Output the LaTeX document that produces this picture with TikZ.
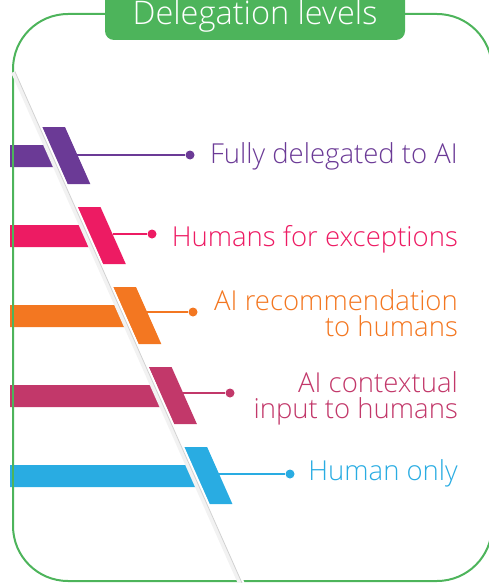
\documentclass[tikz,border=0pt]{standalone}
\usepackage{fontspec}
\setmainfont{Open Sans Light}
\usepackage{tikz}
\usetikzlibrary{calc, positioning}

\definecolor{frame}{HTML}{4DB45B}
\definecolor{lvpurple}{HTML}{6B3A96}
\definecolor{lvpink}{HTML}{ED1B63}
\definecolor{lvorange}{HTML}{F37721}
\definecolor{lvmagenta}{HTML}{C2386A}
\definecolor{lvblue}{HTML}{29ACE2}

\tikzstyle{dot} = [circle, fill, inner sep=0pt, minimum size=9pt]
\tikzstyle{level} = [anchor=base east, align=right, inner sep=0pt, font=\fontsize{27.5}{25.5}\selectfont]
\tikzstyle{link} = [line width=2pt]

\begin{document}
\begin{tikzpicture}[x=1pt, y=-1pt]

  \useasboundingbox (0,0) rectangle (488,583);

  % frame and title
  \draw[frame, line width=2pt, rounded corners=55] (13,14) rectangle (492,581);
  \fill[frame, rounded corners=9] (105,-20) rectangle (405,40);
  \node[white, anchor=base, inner sep=0pt, font=\fontsize{32.5}{32}\selectfont] (title) at (255,25) {Delegation levels};

  % bars on the left of the fold
  \fill[lvpurple]  (10,145) -- (50.0,145) -- (59.8,167) -- (10,167) -- cycle;
  \fill[lvpink]    (10,225) -- (85.5,225) -- (95.3,247) -- (10,247) -- cycle;
  \fill[lvorange]  (10,305) -- (121.0,305) -- (130.8,327) -- (10,327) -- cycle;
  \fill[lvmagenta] (10,385) -- (156.6,385) -- (166.3,407) -- (10,407) -- cycle;
  \fill[lvblue]    (10,465) -- (192.1,465) -- (201.9,487) -- (10,487) -- cycle;

  % slanted pieces
  \fill[lvpurple]  (42.0,127) -- (65.0,127) -- (90.3,184) -- (67.3,184) -- cycle;
  \fill[lvpink]    (77.5,207) -- (100.5,207) -- (125.8,264) -- (102.8,264) -- cycle;
  \fill[lvorange]  (113.0,287) -- (136.0,287) -- (161.3,344) -- (138.3,344) -- cycle;
  \fill[lvmagenta] (148.6,367) -- (171.6,367) -- (196.9,424) -- (173.9,424) -- cycle;
  \fill[lvblue]    (184.1,447) -- (207.1,447) -- (232.4,504) -- (209.4,504) -- cycle;

  % fold
  \draw[gray!10, line width=5pt] (13.5,72) -- (240.4,583);
  \draw[white, line width=2.5pt] (16.4,72) -- (243.3,583);
  \draw[gray!35, line width=0.8pt] (15.1,72) -- (242.0,583);
  \draw[frame, line width=2pt] (13,120) -- (13,500);

  % connectors
  \coordinate (p1) at (77.4,155);
  \coordinate (p2) at (112.5,234);
  \coordinate (p3) at (147.1,312);
  \coordinate (p4) at (183.1,393);
  \coordinate (p5) at (219.1,474);

  \node[dot, lvpurple]  (d1) at (190,155) {};
  \node[dot, lvpink]    (d2) at (152,234) {};
  \node[dot, lvorange]  (d3) at (193,312) {};
  \node[dot, lvmagenta] (d4) at (230,393) {};
  \node[dot, lvblue]    (d5) at (290,474) {};

  \draw[link, lvpurple]  (p1) -- (d1);
  \draw[link, lvpink]    (p2) -- (d2);
  \draw[link, lvorange]  (p3) -- (d3);
  \draw[link, lvmagenta] (p4) -- (d4);
  \draw[link, lvblue]    (p5) -- (d5);

  % labels
  \node[level, lvpurple]  (l1) at (458,163) {Fully delegated to AI};
  \node[level, lvpink]    (l2) at (458,246) {Humans for exceptions};
  \node[level, lvorange]  (l3) at (458,336) {AI recommendation\\to humans};
  \node[level, lvmagenta] (l4) at (458,418) {AI contextual\\input to humans};
  \node[level, lvblue]    (l5) at (458,480) {Human only};

\end{tikzpicture}
\end{document}
